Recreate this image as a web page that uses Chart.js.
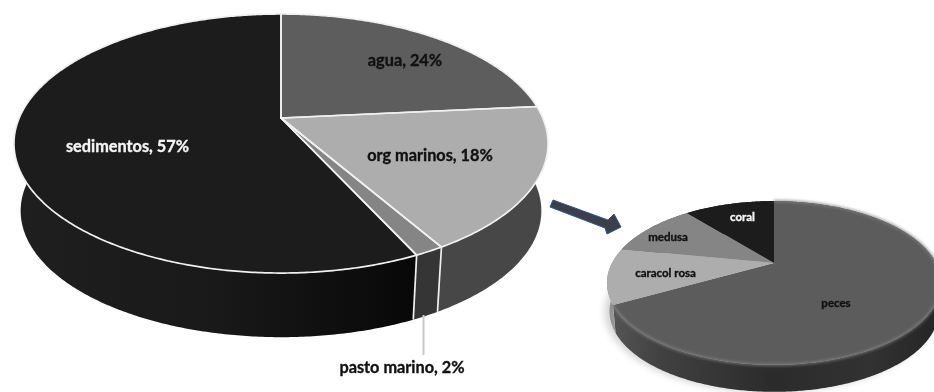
<!DOCTYPE html>
<html><head><meta charset="utf-8">
<style>html,body{margin:0;padding:0;background:#fff;overflow:hidden}
#w{position:relative;width:934px;height:392px}
canvas{position:absolute;left:0;top:0;filter:blur(0.7px)}</style>
<script src="https://cdn.jsdelivr.net/npm/chart.js@4"></script></head>
<body><div id="w"><canvas id="a" width="934" height="392"></canvas><canvas id="b" width="934" height="392"></canvas></div>
<script>
const bigCategories=["agua","org marinos","pasto marino","sedimentos"];
const bigValues=[23.5,18,1.5,57];
const bigLabels=["agua, 24%","org marinos, 18%","pasto marino, 2%","sedimentos, 57%"];
const bigTopColors=["#5d5d5d","#adadad","#858585","#1c1c1c"];
const smallCategories=["peces","caracol rosa","medusa","coral"];
const smallValues=[67,11,11,11];
const smallTopColors=["#5c5c5c","#adadad","#858585","#1c1c1c"];

function proj(g,a,lower){
  const u=Math.cos(a),v=Math.sin(a),w=1-g.p*v;
  const s=lower?g.s:1,d=lower?g.d:0;
  const X=g.A*u/w*s,Y=g.B*v/w*s;
  return [g.x+X,g.y+d+Y];
}
function rim(ctx,g,a0,a1,lower,rev){
  const n=Math.max(2,Math.ceil(Math.abs(a1-a0)/0.01));
  for(let i=0;i<=n;i++){const t=rev?1-i/n:i/n;const p=proj(g,a0+(a1-a0)*t,lower);ctx.lineTo(p[0],p[1]);}
}
function pie3d(g){return{id:'pie3d',beforeDatasetsDraw(chart){
  const ctx=chart.ctx,arcs=chart.getDatasetMeta(0).data.map(e=>e.getProps(['startAngle','endAngle']));
  ctx.save();
  g.under&&g.under(ctx);
  arcs.forEach((e,i)=>{
    ctx.beginPath();rim(ctx,g,e.startAngle,e.endAngle,false,false);rim(ctx,g,e.startAngle,e.endAngle,true,true);ctx.closePath();
    const st=g.side[i];
    if(Array.isArray(st)){const gr=ctx.createLinearGradient(st[0],0,st[1],0);st[2].forEach(c=>gr.addColorStop(c[0],c[1]));ctx.fillStyle=gr;}else ctx.fillStyle=st;
    ctx.fill();
  });
  if(g.edge){ctx.strokeStyle=g.edge;ctx.lineWidth=g.lw;
    g.sideEdges.forEach(i=>{const a=arcs[i].endAngle,p=proj(g,a,false),q=proj(g,a,true);ctx.beginPath();ctx.moveTo(p[0],p[1]);ctx.lineTo(q[0],q[1]);ctx.stroke();});}
  arcs.forEach((e,i)=>{
    ctx.beginPath();ctx.moveTo(g.x,g.y);rim(ctx,g,e.startAngle,e.endAngle,false,false);ctx.closePath();
    ctx.fillStyle=chart.data.datasets[0].backgroundColor[i];ctx.fill();
  });
  g.over&&g.over(ctx,arcs);
  if(g.edge){arcs.forEach(e=>{
    ctx.beginPath();ctx.moveTo(g.x,g.y);rim(ctx,g,e.startAngle,e.endAngle,false,false);ctx.closePath();
    ctx.strokeStyle=g.edge;ctx.lineWidth=g.lw;ctx.lineJoin='round';ctx.stroke();});}
  (g.texts||[]).forEach(t=>{ctx.font=t[4];ctx.fillStyle=t[3];ctx.strokeStyle=t[3];ctx.lineWidth=.35;ctx.textAlign='center';ctx.textBaseline='middle';ctx.fillText(t[0],t[1],t[2]);ctx.strokeText(t[0],t[1],t[2]);});
  g.extra&&g.extra(ctx);
  ctx.restore();
  return false;
}};}
const F='bold 16.3px Lato, "Open Sans", sans-serif',f='bold 11.5px Lato, "Open Sans", sans-serif';
const bigG={x:281,y:118,p:.197,A:261.8,B:124.5,s:.975,d:68,lw:1.7,edge:'#f0f0f0',sideEdges:[1,2],
 side:["#4a4a4a","#474747","#353535",[14,413,[[0,"#1f1f1f"],[.5,"#191919"],[.85,"#0d0d0d"],[1,"#080808"]]]],
 texts:[[bigLabels[0],405,61,"#111",F],[bigLabels[1],430,156,"#111",F],[bigLabels[3],127.5,147,"#f4f4f4",F],[bigLabels[2],402,368,"#111",F]],
 extra(ctx){ctx.strokeStyle='#c8c8c8';ctx.lineWidth=2;ctx.beginPath();ctx.moveTo(423.5,315);ctx.lineTo(423.5,355);ctx.stroke();}
};
const smallG={x:774,y:263,p:.244,A:162,B:77,s:.985,d:28.5,
 side:[[612,934,[[0,"#555555"],[.15,"#414141"],[.5,"#2b2b2b"],[.8,"#323232"],[1,"#262626"]]],[606,620,[[0,"#8a8a8a"],[1,"#a4a4a4"]]],"#6a6a6a","#111"],
 texts:[[smallCategories[3],742.5,217,"#f4f4f4",f],[smallCategories[2],668,237,"#111",f],[smallCategories[1],665.5,273,"#111",f],[smallCategories[0],836,303,"#111",f]],
 under(ctx){ctx.save();ctx.filter='blur(3px)';ctx.fillStyle='#dadada';ctx.beginPath();ctx.ellipse(770,312,166,81,0,0,7);ctx.fill();ctx.restore();},
 over(ctx,arcs){ctx.save();ctx.filter='blur(1.5px)';ctx.strokeStyle='#808080';ctx.lineWidth=2;ctx.beginPath();rim(ctx,this,arcs[0].startAngle,arcs[0].endAngle,false,false);ctx.stroke();ctx.restore();},
 extra(ctx){ctx.beginPath();[[553,200],[608,220],[614,214],[621,227],[607,234],[605,228],[550,207]].forEach(p=>ctx.lineTo(p[0],p[1]));ctx.closePath();ctx.fillStyle='#3a3f4a';ctx.fill();ctx.strokeStyle='#2f5597';ctx.lineWidth=1;ctx.stroke();}
};
function make(id,labels,values,colors,g){return new Chart(document.getElementById(id),{type:'pie',
 data:{labels,datasets:[{data:values,backgroundColor:colors}]},
 options:{responsive:false,animation:false,plugins:{legend:{display:false},tooltip:{enabled:false}}},
 plugins:[pie3d(g)]});}
make('a',bigCategories,bigValues,bigTopColors,bigG);
make('b',smallCategories,smallValues,smallTopColors,smallG);
</script></body></html>
